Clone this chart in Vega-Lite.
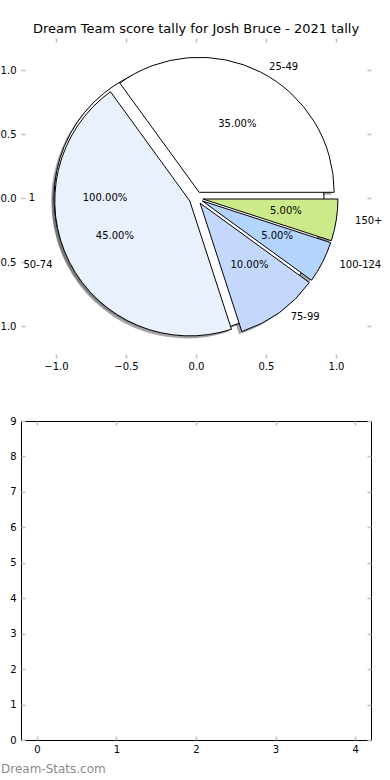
{
  "$schema": "https://vega.github.io/schema/vega-lite/v6.json",
  "padding": {"left": -9, "top": 23, "right": 0, "bottom": 0},
  "config": {
    "font": "DejaVu Sans",
    "text": {"font": "DejaVu Sans", "fontSize": 10, "color": "black"},
    "axis": {"labelFont": "DejaVu Sans", "labelFontSize": 10, "labelColor": "black", "grid": false, "domain": false, "tickColor": "#bfbfbf", "tickWidth": 1.5, "tickSize": -4, "title": null}
  },
  "datasets": {
    "pie": [
      {"pie": "whole", "label": "1", "value": 1},
      {"pie": "main", "label": "25-49", "value": 7},
      {"pie": "main", "label": "50-74", "value": 9},
      {"pie": "main", "label": "75-99", "value": 2},
      {"pie": "main", "label": "100-124", "value": 1},
      {"pie": "main", "label": "150+", "value": 1}
    ],
    "empty": []
  },
  "spacing": 44,
  "vconcat": [
    {
      "width": 350,
      "height": 320,
      "view": {"stroke": null},
      "title": {"text": "Dream Team score tally for Josh Bruce - 2021 tally", "fontSize": 13, "fontWeight": "normal", "font": "DejaVu Sans", "color": "black", "offset": 1, "frame": "group"},
      "data": {"name": "pie"},
      "transform": [
        {"window": [{"op": "sum", "field": "value", "as": "cum"}], "groupby": ["pie"], "frame": [null, 0]},
        {"joinaggregate": [{"op": "sum", "field": "value", "as": "total"}], "groupby": ["pie"]},
        {"calculate": "2*PI*(datum.cum - datum.value)/datum.total", "as": "m0"},
        {"calculate": "2*PI*datum.cum/datum.total", "as": "m1"},
        {"calculate": "(datum.m0 + datum.m1)/2", "as": "mid"},
        {"calculate": "0.05*cos(datum.mid)", "as": "cx"},
        {"calculate": "0.05*sin(datum.mid)", "as": "cy"},
        {"calculate": "datum.cx - 0.02", "as": "sx"},
        {"calculate": "datum.cy - 0.02", "as": "sy"},
        {"calculate": "PI/2 - datum.m1", "as": "t0"},
        {"calculate": "PI/2 - datum.m0", "as": "t1"},
        {"calculate": "1.15*cos(datum.mid)", "as": "lx"},
        {"calculate": "1.15*sin(datum.mid)", "as": "ly"},
        {"calculate": "0.65*cos(datum.mid)", "as": "px"},
        {"calculate": "0.65*sin(datum.mid)", "as": "py"},
        {"calculate": "format(100*datum.value/datum.total, '.2f') + '%'", "as": "pct"}
      ],
      "layer": [
        {
          "mark": {"type": "arc", "radius": 135, "fill": "#4d4d4d", "fillOpacity": 0.5, "strokeWidth": 0},
          "encoding": {
            "x": {"field": "sx", "type": "quantitative", "scale": {"domain": [-1.25, 1.25], "nice": false, "zero": false}, "axis": {"orient": "top", "labels": false, "values": [-1, -0.5, 0, 0.5, 1]}},
            "y": {"field": "sy", "type": "quantitative", "scale": {"domain": [-1.25, 1.25], "nice": false, "zero": false}, "axis": {"orient": "right", "labels": false, "values": [-1, -0.5, 0, 0.5, 1]}},
            "theta": {"field": "t0", "type": "quantitative", "scale": null, "stack": null},
            "theta2": {"field": "t1"}
          }
        },
        {
          "mark": {"type": "arc", "radius": 135, "stroke": "black", "strokeWidth": 1},
          "encoding": {
            "x": {"field": "cx", "type": "quantitative", "scale": {"domain": [-1.25, 1.25], "nice": false, "zero": false}, "axis": {"orient": "bottom", "values": [-1, -0.5, 0, 0.5, 1], "format": ".1f", "labelPadding": 7}},
            "y": {"field": "cy", "type": "quantitative", "scale": {"domain": [-1.25, 1.25], "nice": false, "zero": false}, "axis": {"orient": "left", "values": [-1, -0.5, 0, 0.5, 1], "format": ".1f", "labelPadding": 9}},
            "theta": {"field": "t0", "type": "quantitative", "scale": null, "stack": null},
            "theta2": {"field": "t1"},
            "fill": {"field": "label", "type": "nominal", "legend": null, "scale": {"domain": ["1", "25-49", "50-74", "75-99", "100-124", "150+"], "range": ["#ffffff", "#ffffff", "#eaf1fe", "#c4d8fe", "#b3d4fe", "#cdea8a"]}}
          }
        },
        {
          "transform": [{"filter": "datum.lx < 0"}],
          "mark": {"type": "text", "align": "right", "baseline": "middle"},
          "encoding": {
            "x": {"field": "lx", "type": "quantitative", "scale": {"domain": [-1.25, 1.25], "nice": false, "zero": false}, "axis": null},
            "y": {"field": "ly", "type": "quantitative", "scale": {"domain": [-1.25, 1.25], "nice": false, "zero": false}, "axis": null},
            "text": {"field": "label"}
          }
        },
        {
          "transform": [{"filter": "datum.lx >= 0"}],
          "mark": {"type": "text", "align": "left", "baseline": "middle"},
          "encoding": {
            "x": {"field": "lx", "type": "quantitative", "scale": {"domain": [-1.25, 1.25], "nice": false, "zero": false}, "axis": null},
            "y": {"field": "ly", "type": "quantitative", "scale": {"domain": [-1.25, 1.25], "nice": false, "zero": false}, "axis": null},
            "text": {"field": "label"}
          }
        },
        {
          "mark": {"type": "text", "align": "center", "baseline": "middle"},
          "encoding": {
            "x": {"field": "px", "type": "quantitative", "scale": {"domain": [-1.25, 1.25], "nice": false, "zero": false}, "axis": null},
            "y": {"field": "py", "type": "quantitative", "scale": {"domain": [-1.25, 1.25], "nice": false, "zero": false}, "axis": null},
            "text": {"field": "pct"}
          }
        }
      ]
    },
    {
      "width": 350,
      "height": 319,
      "view": {"stroke": "black", "strokeWidth": 1},
      "title": {"text": "Dream-Stats.com", "orient": "bottom", "anchor": "start", "frame": "group", "fontSize": 12, "fontWeight": "normal", "font": "DejaVu Sans", "color": "#8c8c8c", "dx": -20, "offset": 10},
      "data": {"name": "empty"},
      "layer": [
        {
          "mark": "point",
          "encoding": {
            "x": {"field": "x", "type": "quantitative", "scale": {"domain": [-0.2, 4.2], "nice": false, "zero": false}, "axis": {"orient": "bottom", "values": [0, 1, 2, 3, 4], "format": "d", "labelPadding": 8}},
            "y": {"field": "y", "type": "quantitative", "scale": {"domain": [0, 9], "nice": false, "zero": false}, "axis": {"orient": "left", "values": [0, 1, 2, 3, 4, 5, 6, 7, 8, 9], "format": "d", "labelPadding": 9}}
          }
        },
        {
          "mark": "point",
          "encoding": {
            "x": {"field": "x", "type": "quantitative", "scale": {"domain": [-0.2, 4.2], "nice": false, "zero": false}, "axis": {"orient": "top", "labels": false, "values": [0, 1, 2, 3, 4]}},
            "y": {"field": "y", "type": "quantitative", "scale": {"domain": [0, 9], "nice": false, "zero": false}, "axis": {"orient": "right", "labels": false, "values": [0, 1, 2, 3, 4, 5, 6, 7, 8, 9]}}
          }
        }
      ]
    }
  ]
}
